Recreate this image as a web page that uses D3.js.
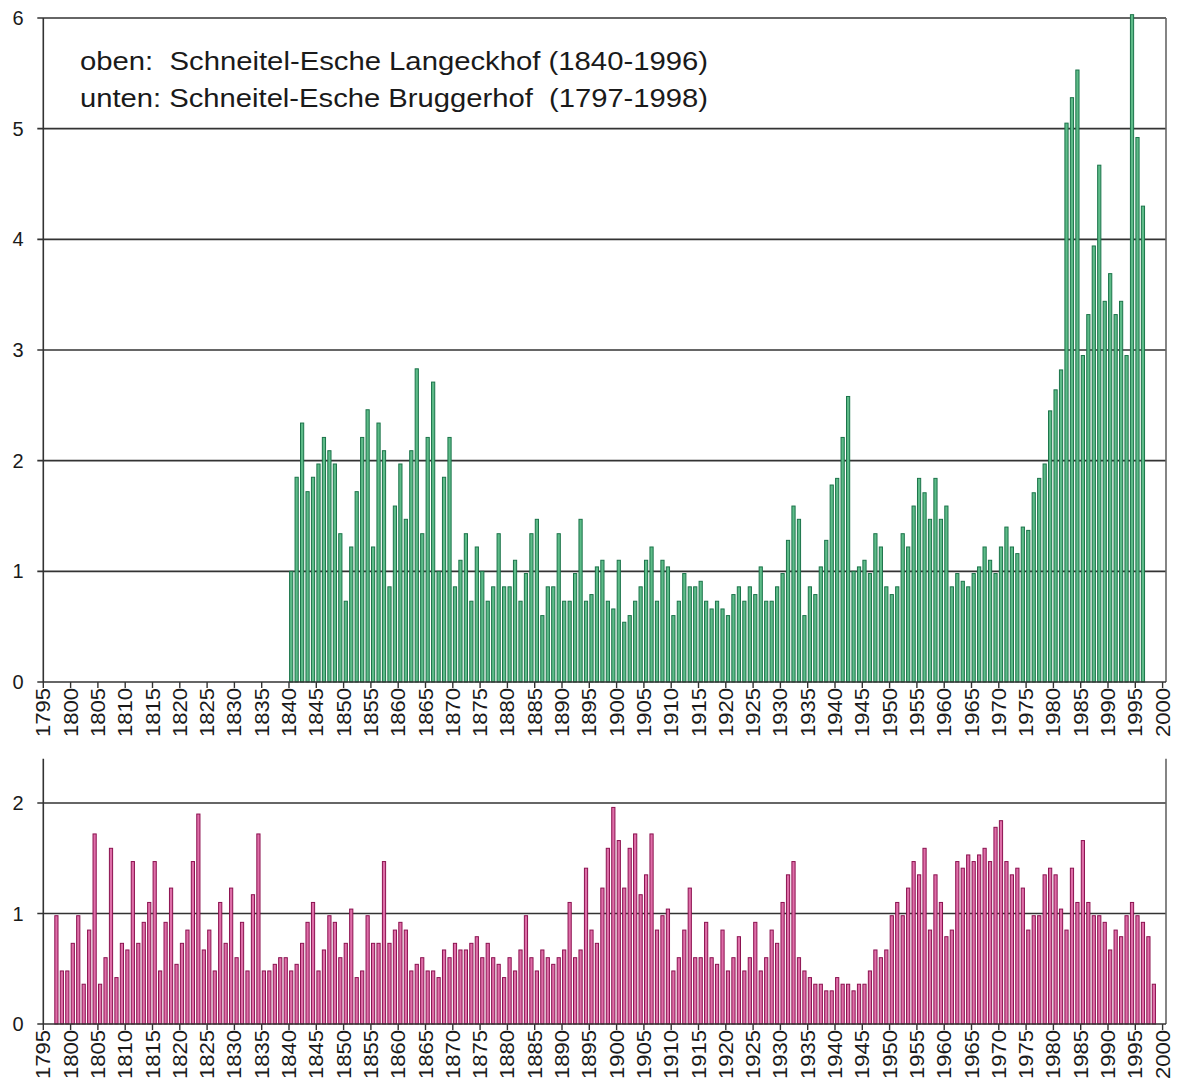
<!DOCTYPE html>
<html>
<head>
<meta charset="utf-8">
<script src="https://d3js.org/d3.v7.min.js"></script>
<style>
  body { margin: 0; background: #fff; }
  svg { display: block; }
  text { font-family: Arial, "Liberation Sans", sans-serif; fill: #1a1a1a; }
</style>
</head>
<body>
<div id="chart"></div>
<script>
// top panel: Schneitel-Esche Langeckhof, 1840-1996
var topStart = 1840;
var topValues = [
  1.00, 1.85, 2.34, 1.72, 1.85, 1.97, 2.21, 2.09, 1.97, 1.34,   // 1840-1849
  0.73, 1.22, 1.72, 2.21, 2.46, 1.22, 2.34, 2.09, 0.86, 1.59,   // 1850-1859
  1.97, 1.47, 2.09, 2.83, 1.34, 2.21, 2.71, 1.00, 1.85, 2.21,   // 1860-1869
  0.86, 1.10, 1.34, 0.73, 1.22, 1.00, 0.73, 0.86, 1.34, 0.86,   // 1870-1879
  0.86, 1.10, 0.73, 0.98, 1.34, 1.47, 0.60, 0.86, 0.86, 1.34,   // 1880-1889
  0.73, 0.73, 0.98, 1.47, 0.73, 0.79, 1.04, 1.10, 0.73, 0.66,   // 1890-1899
  1.10, 0.54, 0.60, 0.73, 0.86, 1.10, 1.22, 0.73, 1.10, 1.04,   // 1900-1909
  0.60, 0.73, 0.98, 0.86, 0.86, 0.91, 0.73, 0.66, 0.73, 0.66,   // 1910-1919
  0.60, 0.79, 0.86, 0.73, 0.86, 0.79, 1.04, 0.73, 0.73, 0.86,   // 1920-1929
  0.98, 1.28, 1.59, 1.47, 0.60, 0.86, 0.79, 1.04, 1.28, 1.78,   // 1930-1939
  1.84, 2.21, 2.58, 1.00, 1.04, 1.10, 0.98, 1.34, 1.22, 0.86,   // 1940-1949
  0.79, 0.86, 1.34, 1.22, 1.59, 1.84, 1.71, 1.47, 1.84, 1.47,   // 1950-1959
  1.59, 0.86, 0.98, 0.91, 0.86, 0.98, 1.04, 1.22, 1.10, 0.98,   // 1960-1969
  1.22, 1.40, 1.22, 1.16, 1.40, 1.37, 1.71, 1.84, 1.97, 2.45,   // 1970-1979
  2.64, 2.82, 5.05, 5.28, 5.53, 2.95, 3.32, 3.94, 4.67, 3.44,   // 1980-1989
  3.69, 3.32, 3.44, 2.95, 6.03, 4.92, 4.30                      // 1990-1996
];

// bottom panel: Schneitel-Esche Bruggerhof, 1797-1998
var bottomStart = 1797;
var bottomValues = [
  0.98, 0.48, 0.48,                                             // 1797-1799
  0.73, 0.98, 0.36, 0.85, 1.72, 0.36, 0.60, 1.59, 0.42, 0.73,   // 1800-1809
  0.67, 1.47, 0.73, 0.92, 1.10, 1.47, 0.48, 0.92, 1.23, 0.54,   // 1810-1819
  0.73, 0.85, 1.47, 1.90, 0.67, 0.85, 0.48, 1.10, 0.73, 1.23,   // 1820-1829
  0.60, 0.92, 0.48, 1.17, 1.72, 0.48, 0.48, 0.54, 0.60, 0.60,   // 1830-1839
  0.48, 0.54, 0.73, 0.92, 1.10, 0.48, 0.67, 0.98, 0.92, 0.60,   // 1840-1849
  0.73, 1.04, 0.42, 0.48, 0.98, 0.73, 0.73, 1.47, 0.73, 0.85,   // 1850-1859
  0.92, 0.85, 0.48, 0.54, 0.60, 0.48, 0.48, 0.42, 0.67, 0.60,   // 1860-1869
  0.73, 0.67, 0.67, 0.73, 0.79, 0.60, 0.73, 0.60, 0.54, 0.42,   // 1870-1879
  0.60, 0.48, 0.67, 0.98, 0.60, 0.48, 0.67, 0.60, 0.54, 0.60,   // 1880-1889
  0.67, 1.10, 0.60, 0.67, 1.41, 0.85, 0.73, 1.23, 1.59, 1.96,   // 1890-1899
  1.66, 1.23, 1.59, 1.72, 1.17, 1.35, 1.72, 0.85, 0.98, 1.04,   // 1900-1909
  0.48, 0.60, 0.85, 1.23, 0.60, 0.60, 0.92, 0.60, 0.54, 0.85,   // 1910-1919
  0.48, 0.60, 0.79, 0.48, 0.60, 0.92, 0.48, 0.60, 0.85, 0.73,   // 1920-1929
  1.10, 1.35, 1.47, 0.60, 0.48, 0.42, 0.36, 0.36, 0.30, 0.30,   // 1930-1939
  0.42, 0.36, 0.36, 0.30, 0.36, 0.36, 0.48, 0.67, 0.60, 0.67,   // 1940-1949
  0.98, 1.10, 0.98, 1.23, 1.47, 1.35, 1.59, 0.85, 1.35, 1.10,   // 1950-1959
  0.79, 0.85, 1.47, 1.41, 1.53, 1.47, 1.53, 1.59, 1.47, 1.78,   // 1960-1969
  1.84, 1.47, 1.35, 1.41, 1.23, 0.85, 0.98, 0.98, 1.35, 1.41,   // 1970-1979
  1.35, 1.04, 0.85, 1.41, 1.10, 1.66, 1.10, 0.98, 0.98, 0.92,   // 1980-1989
  0.67, 0.85, 0.79, 0.98, 1.10, 0.98, 0.92, 0.79, 0.36          // 1990-1998
];

var topTicks = [0, 1, 2, 3, 4, 5, 6];
var bottomTicks = [0, 1, 2];
var yearTicks = d3.range(1795, 2001, 5);
var legendLines = [
  "oben:  Schneitel-Esche Langeckhof (1840-1996)",
  "unten: Schneitel-Esche Bruggerhof  (1797-1998)"
];

var width = 1180, height = 1086;
var left = 43.3, right = 1166;

var svg = d3.select("#chart").append("svg")
    .attr("width", width)
    .attr("height", height);

var x = d3.scaleLinear().domain([1795, 2000]).range([left, 1162.6]);

function toRows(start, values) {
  return values.map(function(v, i) { return { year: start + i, value: v }; });
}

function drawPanel(rows, yTop, ticks, yMax, opt) {
  var g = svg.append("g");

  // gridlines (with small outward tick on the left)
  g.append("g").selectAll("line")
      .data(ticks.filter(function(t) { return t > 0; }))
      .enter().append("line")
      .attr("x1", left - 6).attr("x2", right)
      .attr("y1", function(d) { return yTop(d); })
      .attr("y2", function(d) { return yTop(d); })
      .style("stroke", "#333")
      .style("stroke-width", 1.6);

  // bars
  g.append("g").selectAll("rect")
      .data(rows)
      .enter().append("rect")
      .attr("x", function(d) { return x(d.year + 0.4) - 1.6; })
      .attr("width", 3.2)
      .attr("y", function(d) { return yTop(d.value); })
      .attr("height", function(d) { return yTop(0) - yTop(d.value); })
      .attr("fill", opt.fill)
      .attr("stroke", opt.stroke)
      .attr("stroke-width", 1);

  // frame: left and right sides, base line
  var y0 = yTop(0), yT = yTop(yMax);
  g.append("line").attr("x1", left).attr("x2", left).attr("y1", yT).attr("y2", y0)
      .style("stroke", "#333").style("stroke-width", 1.6);
  g.append("line").attr("x1", right).attr("x2", right).attr("y1", yT).attr("y2", y0)
      .style("stroke", "#666").style("stroke-width", 1.6);
  g.append("line").attr("x1", left - 6).attr("x2", right).attr("y1", y0).attr("y2", y0)
      .style("stroke", "#333").style("stroke-width", 1.6);

  // y labels
  g.append("g").selectAll("text")
      .data(ticks)
      .enter().append("text")
      .attr("x", 18)
      .attr("y", function(d) { return yTop(d) + 7; })
      .attr("text-anchor", "middle")
      .style("font-size", "20px")
      .text(function(d) { return d; });

  // x ticks
  g.append("g").selectAll("line")
      .data(yearTicks)
      .enter().append("line")
      .attr("x1", function(d) { return x(d); })
      .attr("x2", function(d) { return x(d); })
      .attr("y1", y0).attr("y2", y0 + 6)
      .style("stroke", "#333")
      .style("stroke-width", 1.4);

  // x labels, rotated
  g.append("g").selectAll("text")
      .data(yearTicks)
      .enter().append("text")
      .attr("transform", function(d) {
        return "translate(" + (x(d) + 7) + "," + (y0 + 6) + ") rotate(-90)";
      })
      .attr("text-anchor", "end")
      .attr("textLength", 49)
      .attr("lengthAdjust", "spacingAndGlyphs")
      .style("font-size", "19.5px")
      .text(function(d) { return d; });
}

var yTop = d3.scaleLinear().domain([0, 6]).range([682, 18]);
var yBot = d3.scaleLinear().domain([0, 2.4]).range([1024, 1024 - 2.4 * 110.5]);

drawPanel(toRows(topStart, topValues), yTop, topTicks, 6,
  { fill: "#5dbb88", stroke: "#1b744a" });
drawPanel(toRows(bottomStart, bottomValues), yBot, bottomTicks, 2.4,
  { fill: "#de6ea8", stroke: "#8c1250" });

// legend text
svg.append("g").selectAll("text")
    .data(legendLines)
    .enter().append("text")
    .attr("x", 80)
    .attr("y", function(d, i) { return 70 + i * 37; })
    .attr("xml:space", "preserve")
    .attr("textLength", 628)
    .attr("lengthAdjust", "spacingAndGlyphs")
    .style("white-space", "pre")
    .style("font-size", "26px")
    .text(function(d) { return d; });
</script>
</body>
</html>
